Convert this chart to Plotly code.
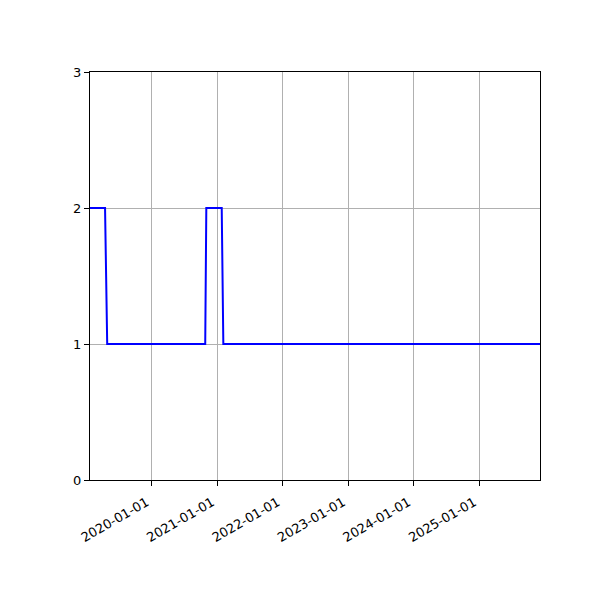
import plotly.graph_objects as go

dates = ["2019-01-22", "2019-04-16", "2019-04-28", "2020-10-26", "2020-11-01",
         "2021-01-26", "2021-02-04", "2025-12-07"]
values = [2, 2, 1, 1, 2, 2, 1, 1]
x_ticks = ["2020-01-01", "2021-01-01", "2022-01-01", "2023-01-01", "2024-01-01", "2025-01-01"]
y_ticks = [0, 1, 2, 3]

fig = go.Figure()
fig.add_trace(go.Scatter(x=dates, y=values, mode="lines",
                         line=dict(color="#0000ff", width=2), showlegend=False))

axis_common = dict(showline=True, linecolor="black", linewidth=1, mirror=True,
                   ticks="outside", ticklen=5, tickcolor="black",
                   showgrid=True, gridcolor="#b0b0b0", gridwidth=1, zeroline=False,
                   tickfont=dict(family="DejaVu Sans", size=13, color="black"))

fig.update_layout(
    width=600, height=600,
    margin=dict(l=82, r=68, t=64, b=128),
    plot_bgcolor="white", paper_bgcolor="white",
    xaxis=dict(type="date", range=[dates[0], dates[-1]], tickvals=x_ticks,
               ticktext=x_ticks, tickangle=-30, ticklabelstandoff=4,
               ticklabelshift=-5, **axis_common),
    yaxis=dict(range=[0, 3], tickvals=y_ticks, ticktext=[str(v) for v in y_ticks],
               **axis_common),
)

fig.write_html("out.html")
